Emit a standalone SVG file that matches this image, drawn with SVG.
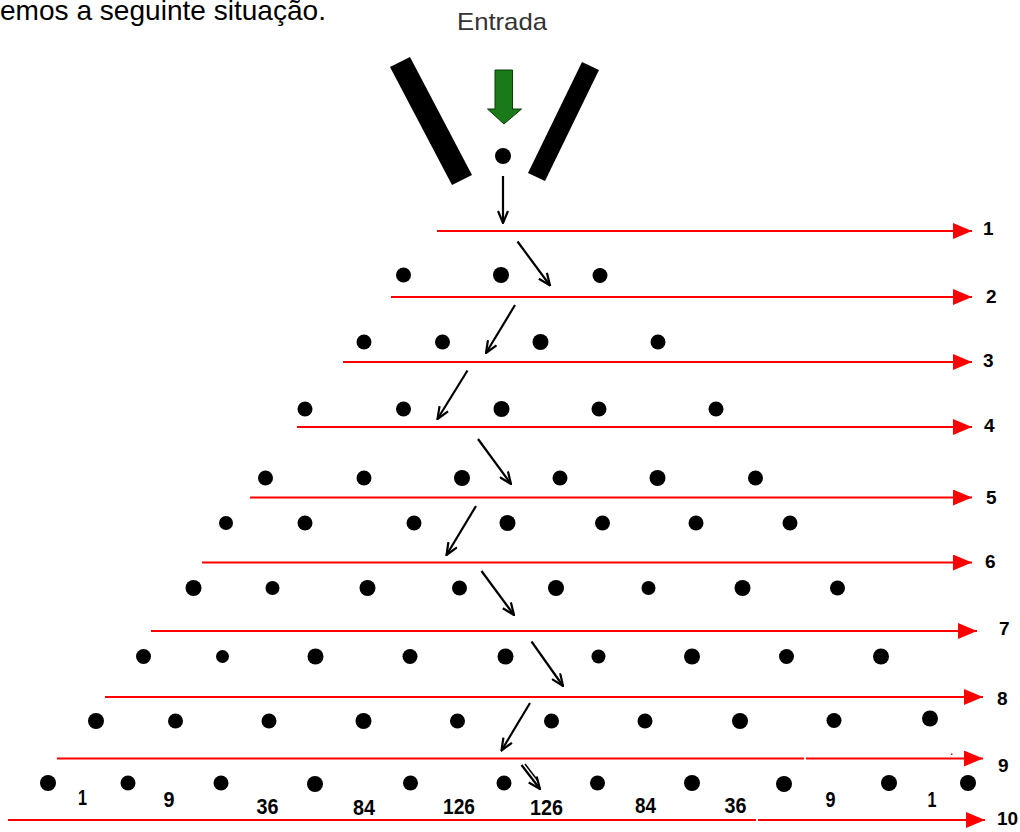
<svg xmlns="http://www.w3.org/2000/svg" width="1020" height="832" viewBox="0 0 1020 832">
<defs>
<style>
.dot{fill:#000}
.lvl{stroke:#ff0000;stroke-width:2;fill:none}
.lvlh{stroke:#ff0000;stroke-width:2;fill:none;marker-end:url(#redHead)}
.arr{stroke:#000;stroke-width:2.2;fill:none;marker-end:url(#blkHead)}
.lab{font-family:"Liberation Sans",Arial,sans-serif;font-weight:bold;font-size:19px;fill:#000}
.num{font-family:"Liberation Sans",Arial,sans-serif;font-weight:bold;font-size:22px;fill:#000;text-anchor:middle}
</style>
<marker id="redHead" viewBox="0 0 19 16" refX="19" refY="8" markerWidth="19" markerHeight="16" markerUnits="userSpaceOnUse" orient="auto">
<path d="M0,0 L19,8 L0,16 Z" fill="#ff0000"/>
</marker>
<marker id="blkHead" viewBox="0 0 14 12" refX="13" refY="6" markerWidth="14" markerHeight="12" markerUnits="userSpaceOnUse" orient="auto">
<path d="M1,1 L13,6 L1,11" fill="none" stroke="#000" stroke-width="2.2"/>
</marker>
</defs>
<rect width="1020" height="832" fill="#fff"/>

<g id="title">
<text x="0" y="20" font-family="Liberation Sans, Arial, sans-serif" font-size="28" textLength="326" lengthAdjust="spacingAndGlyphs" fill="#000">emos a seguinte situação.</text>
<text x="457" y="30" font-family="Liberation Sans, Arial, sans-serif" font-size="24" textLength="90" lengthAdjust="spacingAndGlyphs" fill="#333">Entrada</text>
</g>

<g id="funnel">
<polygon points="390,67 410,57 472,175 452,185" fill="#000"/>
<polygon points="528,173 545,181 599,70 582,62" fill="#000"/>
<polygon points="495,70 512.5,70 512.5,109 521.5,109 504,124 487.5,109 495,109" fill="#1a7a1a" stroke="#0a3a0a" stroke-width="1"/>
<circle class="dot" cx="503" cy="156" r="8"/>
</g>

<g id="levels">
<line class="lvlh" x1="437" y1="231" x2="972" y2="231"/>
<line class="lvlh" x1="391" y1="297" x2="972" y2="297"/>
<line class="lvlh" x1="343" y1="362" x2="972" y2="362"/>
<line class="lvlh" x1="297" y1="427" x2="972" y2="427"/>
<line class="lvlh" x1="250" y1="497.5" x2="972" y2="497.5"/>
<line class="lvlh" x1="202" y1="562.5" x2="972" y2="562.5"/>
<line class="lvlh" x1="151" y1="631" x2="977" y2="631"/>
<line class="lvlh" x1="105" y1="697" x2="983" y2="697"/>
<line class="lvl" x1="57" y1="758.5" x2="804" y2="758.5"/>
<line class="lvlh" x1="806" y1="758.5" x2="983" y2="758.5"/>
<rect x="951" y="753.5" width="1.5" height="1.5" fill="#ff0000"/>
<line class="lvl" x1="8" y1="820" x2="756" y2="820"/>
<line class="lvlh" x1="758" y1="820" x2="985" y2="820"/>
</g>

<g id="dots">
<g id="row2"><circle class="dot" cx="403.5" cy="275" r="7.5"/><circle class="dot" cx="501" cy="275" r="8"/><circle class="dot" cx="600" cy="275.5" r="7.5"/></g>
<g id="row3"><circle class="dot" cx="364" cy="342" r="7.5"/><circle class="dot" cx="442.5" cy="342" r="7.5"/><circle class="dot" cx="540.5" cy="342" r="8"/><circle class="dot" cx="658" cy="342" r="7.5"/></g>
<g id="row4"><circle class="dot" cx="305" cy="409" r="7.5"/><circle class="dot" cx="403.5" cy="409" r="7.5"/><circle class="dot" cx="501.5" cy="409" r="8"/><circle class="dot" cx="599" cy="409" r="7.5"/><circle class="dot" cx="716" cy="409" r="7.5"/></g>
<g id="row5"><circle class="dot" cx="265.5" cy="478" r="7.5"/><circle class="dot" cx="364" cy="478" r="7.5"/><circle class="dot" cx="462" cy="478" r="8"/><circle class="dot" cx="560" cy="478" r="7.5"/><circle class="dot" cx="657.5" cy="478" r="8"/><circle class="dot" cx="755.5" cy="478" r="7.5"/></g>
<g id="row6"><circle class="dot" cx="226" cy="523" r="7"/><circle class="dot" cx="305" cy="523" r="7.5"/><circle class="dot" cx="414" cy="523" r="7.5"/><circle class="dot" cx="507.5" cy="523" r="8"/><circle class="dot" cx="602.5" cy="523" r="7.5"/><circle class="dot" cx="696" cy="523" r="7.5"/><circle class="dot" cx="790" cy="523" r="7.5"/></g>
<g id="row7"><circle class="dot" cx="193.5" cy="588" r="8"/><circle class="dot" cx="272.5" cy="588" r="7"/><circle class="dot" cx="367.5" cy="588" r="8"/><circle class="dot" cx="459.5" cy="588" r="7.5"/><circle class="dot" cx="556" cy="588" r="8"/><circle class="dot" cx="648.5" cy="588" r="7"/><circle class="dot" cx="742.5" cy="588" r="8"/><circle class="dot" cx="837.5" cy="588" r="7.5"/></g>
<g id="row8"><circle class="dot" cx="143.5" cy="656.5" r="7.5"/><circle class="dot" cx="222.5" cy="656.5" r="6.5"/><circle class="dot" cx="315.5" cy="656.5" r="8"/><circle class="dot" cx="410" cy="656.5" r="7.5"/><circle class="dot" cx="505.5" cy="656.5" r="8"/><circle class="dot" cx="598.5" cy="656.5" r="7"/><circle class="dot" cx="692" cy="656.5" r="8"/><circle class="dot" cx="786.5" cy="656.5" r="7.5"/><circle class="dot" cx="881" cy="656.5" r="8"/></g>
<g id="row9"><circle class="dot" cx="96" cy="721" r="8"/><circle class="dot" cx="175.5" cy="721" r="7.5"/><circle class="dot" cx="269" cy="721" r="7.5"/><circle class="dot" cx="363.5" cy="721" r="8"/><circle class="dot" cx="457.5" cy="721" r="7.5"/><circle class="dot" cx="551.5" cy="721" r="7.5"/><circle class="dot" cx="645" cy="721" r="7.5"/><circle class="dot" cx="740" cy="721" r="8"/><circle class="dot" cx="834" cy="720.5" r="7.5"/><circle class="dot" cx="930" cy="718.5" r="8"/></g>
<g id="row10"><circle class="dot" cx="48" cy="783" r="8"/><circle class="dot" cx="128" cy="783" r="7.5"/><circle class="dot" cx="221" cy="783" r="7.5"/><circle class="dot" cx="315" cy="784" r="8"/><circle class="dot" cx="410.5" cy="783" r="7.5"/><circle class="dot" cx="504" cy="783" r="7.5"/><circle class="dot" cx="597.5" cy="783" r="7.5"/><circle class="dot" cx="692" cy="783" r="8"/><circle class="dot" cx="784" cy="784" r="8"/><circle class="dot" cx="889" cy="783" r="8"/><circle class="dot" cx="968" cy="783" r="8"/></g>
</g>

<g id="connectors">
<line class="arr" x1="503" y1="176" x2="503" y2="223"/>
<line class="arr" x1="517.5" y1="241.5" x2="550" y2="285.5"/>
<line class="arr" x1="515" y1="305" x2="486" y2="353"/>
<line class="arr" x1="467.5" y1="370.5" x2="437.5" y2="419"/>
<line class="arr" x1="478" y1="439" x2="511" y2="484"/>
<line class="arr" x1="476" y1="506" x2="446.5" y2="555"/>
<line class="arr" x1="481.5" y1="571" x2="514" y2="615"/>
<line class="arr" x1="531.5" y1="641.5" x2="563" y2="686"/>
<line class="arr" x1="530" y1="703" x2="501.5" y2="750.5"/>
<line class="arr" x1="521.5" y1="765" x2="540" y2="789"/>
<line x1="525" y1="764" x2="538" y2="781" stroke="#000" stroke-width="1.5"/>
</g>

<g id="labels">
<text class="lab" x="983" y="235">1</text>
<text class="lab" x="986" y="303">2</text>
<text class="lab" x="983" y="367">3</text>
<text class="lab" x="984" y="432">4</text>
<text class="lab" x="986" y="504">5</text>
<text class="lab" x="985" y="568">6</text>
<text class="lab" x="999" y="635" font-size="20">7</text>
<text class="lab" x="997" y="705" font-size="20">8</text>
<text class="lab" x="998" y="772" font-size="20">9</text>
<text class="lab" x="997" y="825" font-size="20">10</text>
</g>

<g id="counts">
<text class="num" x="82.5" y="805" textLength="9" lengthAdjust="spacingAndGlyphs">1</text>
<text class="num" x="169" y="806.5" textLength="11" lengthAdjust="spacingAndGlyphs">9</text>
<text class="num" x="267.5" y="814" textLength="22" lengthAdjust="spacingAndGlyphs">36</text>
<text class="num" x="364" y="815" textLength="22" lengthAdjust="spacingAndGlyphs">84</text>
<text class="num" x="459" y="814" textLength="32" lengthAdjust="spacingAndGlyphs">126</text>
<text class="num" x="546.5" y="815" textLength="33" lengthAdjust="spacingAndGlyphs">126</text>
<text class="num" x="645.5" y="813" textLength="21" lengthAdjust="spacingAndGlyphs">84</text>
<text class="num" x="735.5" y="813" textLength="22" lengthAdjust="spacingAndGlyphs">36</text>
<text class="num" x="830.5" y="806.5" textLength="10" lengthAdjust="spacingAndGlyphs">9</text>
<text class="num" x="932" y="806.5" textLength="9" lengthAdjust="spacingAndGlyphs">1</text>
</g>
</svg>
